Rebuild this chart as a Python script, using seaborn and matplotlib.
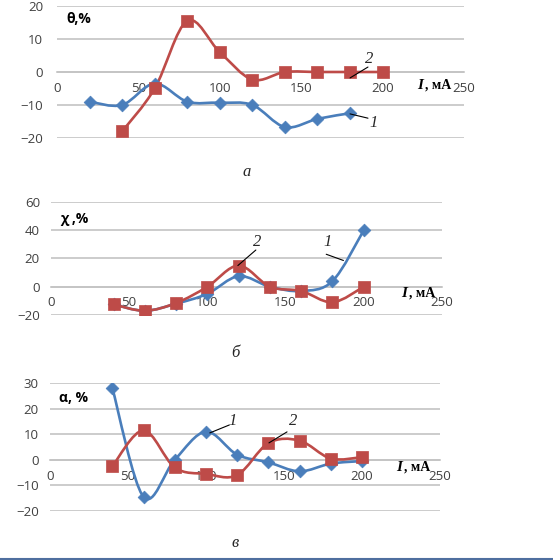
import numpy as np
import pandas as pd
import seaborn as sns
import matplotlib.pyplot as plt
from matplotlib.path import Path
from matplotlib.patches import PathPatch

sns.set_style('white')
plt.rcParams['font.family'] = ['Open Sans', 'DejaVu Sans']

# --- данные ---
I_theta1 = [20, 40, 60, 80, 100, 120, 140, 160, 180]
theta1 = [-9, -10, -3.5, -9, -9.3, -10, -16.7, -14.2, -12.5]
I_theta2 = [40, 60, 80, 100, 120, 140, 160, 180, 200]
theta2 = [-18, -5, 15.5, 6, -2.3, 0, 0, 0, 0]

I_chi = [40, 60, 80, 100, 120, 140, 160, 180, 200]
chi1 = [-12.5, -17, -12, -5, 7.5, 0, -3, 4, 40]
chi2 = [-12.5, -17, -11.5, 0, 15, 0, -3, -11, 0]

I_alpha = [40, 60, 80, 100, 120, 140, 160, 180, 200]
alpha1 = [28, -14.5, 0, 11, 2, -1, -4.5, -1.5, -0.5]
alpha2 = [-2.5, 11.5, -3, -5.5, -6, 6.5, 7.5, 0.5, 1]

x_ticks = [0, 50, 100, 150, 200, 250]

BLUE = '#4A7EBB'
RED = '#BE4B48'
GRID = '#C4C4C4'
TXT = '#404040'


def smooth_path(x, y):
    # кривая Безье как сглаживание в Excel
    p = np.column_stack([x, y]).astype(float)
    n = len(p)
    verts = [p[0]]
    codes = [Path.MOVETO]
    for i in range(n - 1):
        p0 = p[i - 1] if i > 0 else p[i]
        p3 = p[i + 2] if i + 2 < n else p[i + 1]
        c1 = p[i] + (p[i + 1] - p0) / 6
        c2 = p[i + 1] - (p3 - p[i]) / 6
        verts += [c1, c2, p[i + 1]]
        codes += [Path.CURVE4] * 3
    return Path(verts, codes)


def series(ax, x, y, color, marker, s):
    ax.add_patch(PathPatch(smooth_path(x, y), facecolor='none', edgecolor=color,
                           lw=1.9, zorder=3))
    df = pd.DataFrame({'I': x, 'v': y})
    sns.scatterplot(data=df, x='I', y='v', ax=ax, marker=marker, s=s, color=color,
                    edgecolor=color, linewidth=0.5, zorder=4)


def setup(ax, ylim, yticks, ylab, ylab_y, ilab_x, ilab_y, ypad):
    ax.set_xlim(0, 250)
    ax.set_ylim(*ylim)
    ax.set_yticks(yticks)
    ax.set_xticks(x_ticks)
    ax.set_xlabel('')
    ax.set_ylabel('')
    for s in ['top', 'right', 'left']:
        ax.spines[s].set_visible(False)
    ax.spines['bottom'].set_position(('data', 0))
    ax.spines['bottom'].set_color(GRID)
    ax.spines['bottom'].set_linewidth(1.2)
    ax.grid(axis='y', color=GRID, lw=1.2)
    ax.grid(axis='x', visible=False)
    ax.set_axisbelow(True)
    ax.tick_params(length=0, labelsize=9.5, labelcolor=TXT)
    ax.tick_params(axis='x', pad=7)
    ax.tick_params(axis='y', pad=ypad)
    ax.text(6, ylab_y, ylab, fontsize=10, fontweight='bold', color='black',
            va='center', ha='left')
    ax.text(ilab_x, ilab_y, r'$\mathbfit{I}$', fontsize=11, va='center', ha='left',
            family='Liberation Serif', color='black')
    ax.text(ilab_x + 5, ilab_y, ', мА', fontsize=10, va='center', ha='left',
            family='Liberation Serif', fontweight='bold', color='black')


def tag(ax, label, p0, p1, pt):
    ax.plot([p0[0], p1[0]], [p0[1], p1[1]], color='black', lw=0.8, zorder=5)
    ax.text(pt[0], pt[1], label, fontsize=12, family='Liberation Serif',
            style='italic', ha='center', va='center', zorder=5)


plt.rcParams['mathtext.fontset'] = 'custom'
plt.rcParams['mathtext.bfit'] = 'Liberation Serif:italic:bold'

fig = plt.figure(figsize=(5.53, 5.60), dpi=100)

# а
ax1 = fig.add_axes([0.1031, 0.7536, 0.736, 0.2357])
series(ax1, I_theta1, theta1, BLUE, 'D', 42)
series(ax1, I_theta2, theta2, RED, 's', 70)
setup(ax1, (-20, 20), [-20, -10, 0, 10, 20], 'θ,%', 16, 221, -4, 10)
tag(ax1, '2', (180, -1.8), (191, 1.5), (192, 4))
tag(ax1, '1', (180, -12.7), (191, -14), (194.5, -15.5))

# б
ax2 = fig.add_axes([0.0922, 0.4375, 0.707, 0.2018])
series(ax2, I_chi, chi1, BLUE, 'D', 42)
series(ax2, I_chi, chi2, RED, 's', 70)
setup(ax2, (-20, 60), [-20, 0, 20, 40, 60], 'χ ,%', 48, 224, -4.2, 8)
tag(ax2, '2', (119.5, 15), (131, 26), (132, 32))
tag(ax2, '1', (176, 23), (187, 18.6), (177, 32))

# в
ax3 = fig.add_axes([0.0904, 0.0875, 0.705, 0.2286])
series(ax3, I_alpha, alpha1, BLUE, 'D', 42)
series(ax3, I_alpha, alpha2, RED, 's', 70)
setup(ax3, (-20, 30), [-20, -10, 0, 10, 20, 30], 'α, %', 24, 222, -2.7, 8)
tag(ax3, '1', (102.5, 10.5), (115, 13.6), (117, 15))
tag(ax3, '2', (140.4, 6.6), (152, 10.9), (156, 15))

# подписи панелей
for txt, xp, yp in [('а', 247, 172), ('б', 235, 353), ('в', 235, 543)]:
    fig.text(xp / 553, 1 - yp / 560, txt, fontsize=12, style='italic',
             family='Liberation Serif', ha='center', va='center')

fig.add_artist(plt.Line2D([0, 1], [0.002, 0.002], color='#4F6F9F', lw=1.5,
                          transform=fig.transFigure))

fig.savefig('out.png', dpi=100)
